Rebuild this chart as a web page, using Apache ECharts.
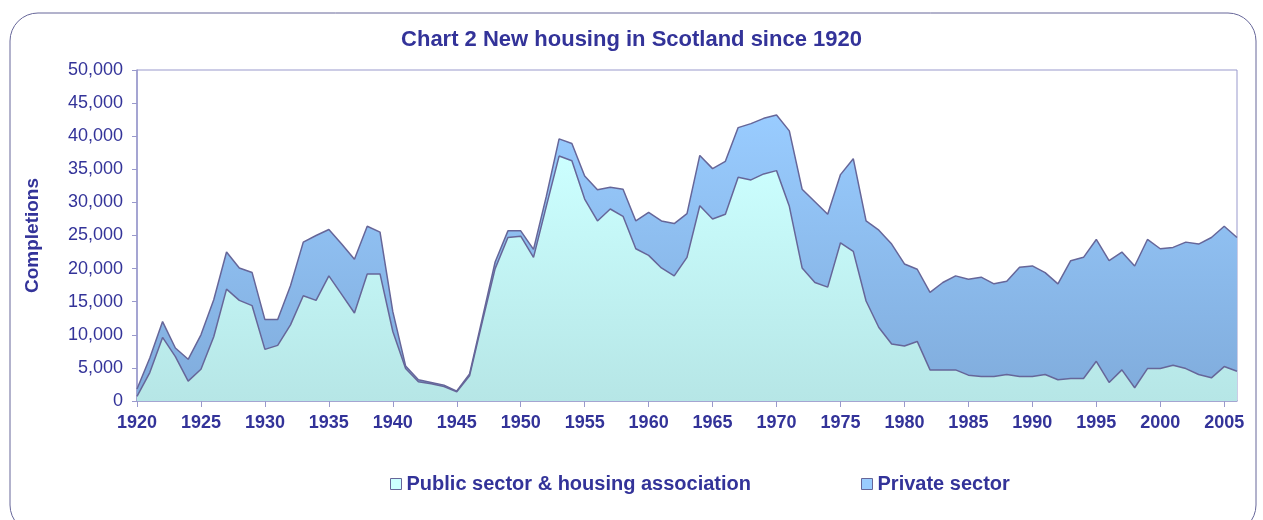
<!DOCTYPE html>
<html>
<head>
<meta charset="utf-8">
<title>New housing in Scotland since 1920</title>
<script src="https://cdn.jsdelivr.net/npm/echarts@6/dist/echarts.min.js"></script>
<style>
  html, body { margin: 0; padding: 0; background: #fff; }
  #chart { width: 1263px; height: 520px; }
</style>
</head>
<body>
<div id="chart"></div>
<script>
// completions per year
const years = []
for (let y = 1920; y <= 2006; y++) years.push(String(y))

const publicSector = [
  700, 4300, 9600, 6700, 3000, 4800, 9700, 16900, 15200, 14400,
  7800, 8400, 11500, 15900, 15200, 18900, 16100, 13300, 19200, 19200,
  10500, 4900, 2900, 2600, 2200, 1400, 3800, 12000, 20000, 24700,
  24900, 21700, 29400, 37000, 36300, 30500, 27200, 29000, 27900, 23000,
  22000, 20100, 18900, 21700, 29500, 27500, 28200, 33800, 33400, 34300,
  34800, 29400, 20100, 17900, 17200, 23900, 22600, 15100, 11100, 8600,
  8300, 9000, 4700, 4700, 4700, 3900, 3700, 3700, 4000, 3700,
  3700, 4000, 3200, 3400, 3400, 6000, 2800, 4700, 2000, 4900,
  4900, 5400, 4900, 4000, 3500, 5200, 4500
]

const privateSector = [
  1100, 2200, 2400, 1300, 3300, 5200, 5600, 5600, 4900, 5000,
  4500, 3900, 5900, 8100, 9800, 7000, 7600, 8100, 7200, 6300,
  3000, 400, 300, 200, 200, 100, 300, 500, 1000, 1000,
  800, 1200, 1500, 2600, 2600, 3500, 4700, 3300, 4100, 4200,
  6500, 7100, 7900, 6600, 7600, 7600, 8000, 7500, 8500, 8400,
  8400, 11400, 11900, 12200, 11000, 10300, 14000, 12100, 14700, 15100,
  12400, 10900, 11700, 13200, 14200, 14500, 15000, 14000, 14100, 16500,
  16700, 15400, 14500, 17800, 18300, 18400, 18400, 17800, 18400, 19500,
  18100, 17800, 19100, 19700, 21200, 21200, 20200
]

const seriesNames = ['Public sector & housing association', 'Private sector']

const navy = '#333399'
const axisGrey = '#9999cc'
const lineCol = '#666699'
const font = '"Liberation Sans", Arial, sans-serif'

let myChart = echarts.init(document.getElementById('chart'))

function grad (top, bottom) {
  return new echarts.graphic.LinearGradient(0, 0, 0, 1, [
    { offset: 0, color: top },
    { offset: 1, color: bottom }
  ])
}

let option = {
  animation: false,
  textStyle: { fontFamily: font },
  title: {
    text: 'Chart 2 New housing in Scotland since 1920',
    left: 'center',
    top: 24,
    textStyle: { color: navy, fontSize: 22, fontWeight: 'bold', fontFamily: font }
  },
  graphic: [{
    type: 'rect',
    shape: { x: 10, y: 13, width: 1246, height: 520, r: 28 },
    style: { fill: 'none', stroke: '#666699', lineWidth: 1 },
    silent: true
  }],
  legend: {
    data: seriesNames,
    bottom: 21,
    left: 385,
    itemGap: 110,
    itemWidth: 11,
    itemHeight: 11,
    icon: 'rect',
    itemStyle: { borderColor: lineCol, borderWidth: 1 },
    textStyle: { color: navy, fontSize: 20, fontWeight: 'bold', fontFamily: font }
  },
  grid: {
    left: 137,
    right: 26,
    top: 70,
    bottom: 119,
    show: true,
    borderColor: axisGrey,
    borderWidth: 1
  },
  xAxis: {
    type: 'category',
    data: years,
    boundaryGap: false,
    axisLine: { lineStyle: { color: axisGrey, width: 1.5 } },
    axisTick: { interval: 4, length: 6, lineStyle: { color: axisGrey } },
    axisLabel: {
      interval: 4,
      color: navy,
      fontSize: 18,
      fontWeight: 'bold',
      margin: 13,
      fontFamily: font
    },
    splitLine: { show: false }
  },
  yAxis: {
    type: 'value',
    min: 0,
    max: 50000,
    interval: 5000,
    name: 'Completions',
    nameLocation: 'middle',
    nameGap: 95,
    nameTextStyle: { color: navy, fontSize: 19, fontWeight: 'bold', fontFamily: font },
    axisLine: { show: true, lineStyle: { color: axisGrey, width: 1.5 } },
    axisTick: { show: true, length: 5, lineStyle: { color: axisGrey } },
    axisLabel: {
      color: navy,
      fontSize: 18,
      margin: 14,
      fontFamily: font,
      formatter: v => v.toLocaleString('en-GB')
    },
    splitLine: { show: false }
  },
  series: [{
    name: seriesNames[0],
    type: 'line',
    stack: 'total',
    data: publicSector,
    symbol: 'none',
    lineStyle: { color: lineCol, width: 1.5 },
    itemStyle: { color: '#ccffff', borderColor: lineCol },
    areaStyle: { color: grad('#ccffff', '#b6e6e6'), opacity: 1 }
  }, {
    name: seriesNames[1],
    type: 'line',
    stack: 'total',
    data: privateSector,
    symbol: 'none',
    lineStyle: { color: lineCol, width: 1.5 },
    itemStyle: { color: '#99ccff', borderColor: lineCol },
    areaStyle: { color: grad('#99ccff', '#80acdc'), opacity: 1 }
  }]
}

myChart.setOption(option)
window.addEventListener('resize', () => myChart.resize())
</script>
</body>
</html>
